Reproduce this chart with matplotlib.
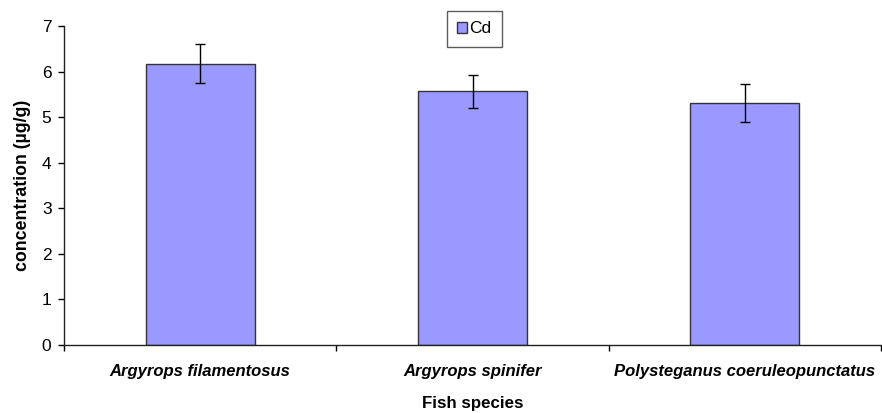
import matplotlib
matplotlib.use("Agg")
import matplotlib.pyplot as plt
import numpy as np

plt.rcParams['font.family'] = ['Liberation Sans', 'DejaVu Sans']

species = ["Argyrops filamentosus", "Argyrops spinifer", "Polysteganus coeruleopunctatus"]
cd_values = [6.17, 5.57, 5.31]
cd_errors = [0.43, 0.36, 0.42]
yticks = [0, 1, 2, 3, 4, 5, 6, 7]

fig = plt.figure(figsize=(8.82, 4.13), dpi=100)
ax = fig.add_axes([64/882, 1 - 345/413, (881-64)/882, (345-26)/413])

x = np.arange(len(species))
ax.bar(x, cd_values, width=0.4, color='#9999FF', edgecolor='#333333', linewidth=1.0,
       label='Cd', zorder=2)
ax.errorbar(x, cd_values, yerr=cd_errors, fmt='none', ecolor='black', elinewidth=1.0,
            capsize=3.5, capthick=1.0, zorder=3)

ax.set_xlim(-0.5, len(species) - 0.5)
ax.set_ylim(0, 7)
ax.set_yticks(yticks)
ax.set_yticklabels([str(t) for t in yticks], fontsize=12.5)

ax.set_xticks(x)
ax.set_xticklabels(species, fontsize=12, fontweight='bold', fontstyle='italic')
ax.tick_params(axis='x', which='major', length=0, pad=14)
ax.set_xticks(np.arange(len(species) + 1) - 0.5, minor=True)
ax.tick_params(axis='x', which='minor', length=4, direction='out', width=1)
ax.tick_params(axis='y', length=4, direction='out', width=1, pad=5)

for s in ['top', 'right']:
    ax.spines[s].set_visible(False)
for s in ['left', 'bottom']:
    ax.spines[s].set_linewidth(1.0)
    ax.spines[s].set_color('#222222')

ax.set_xlabel('Fish species', fontsize=12.2, fontweight='bold', labelpad=12)
ax.set_ylabel('concentration (µg/g)', fontsize=12.8, fontweight='bold', labelpad=8)

leg = ax.legend(loc='upper left', bbox_to_anchor=(447/882, 1 - 11/413), bbox_transform=fig.transFigure,
                fontsize=12.5, frameon=True, fancybox=False, handlelength=0.55, handleheight=0.55,
                handletextpad=0.15, borderpad=0.6, borderaxespad=0)
leg.get_frame().set_edgecolor('#333333')
leg.get_frame().set_linewidth(1.0)

fig.savefig('out.png', dpi=100)
